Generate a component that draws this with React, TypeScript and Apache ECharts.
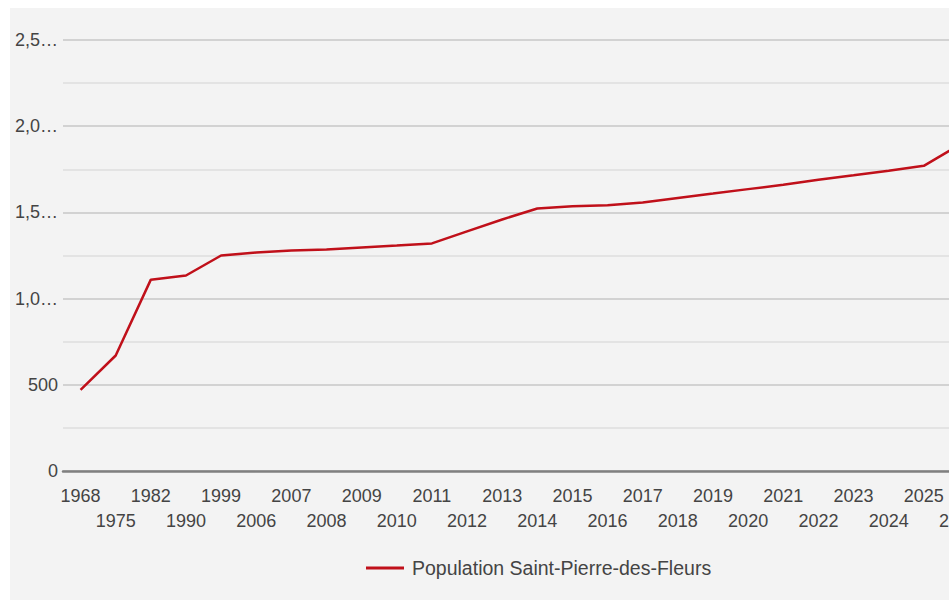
import React, { useEffect, useRef } from "react";
import * as echarts from "echarts";

const years: string[] = [
  "1968", "1975", "1982", "1990", "1999", "2006", "2007", "2008", "2009",
  "2010", "2011", "2012", "2013", "2014", "2015", "2016", "2017", "2018",
  "2019", "2020", "2021", "2022", "2023", "2024", "2025", "2026",
];

const population: number[] = [
  470, 670, 1110, 1134, 1250, 1267, 1279, 1285, 1297, 1308, 1320, 1390, 1459,
  1523, 1535, 1541, 1558, 1584, 1609, 1635, 1660, 1690, 1715, 1742, 1770, 1890,
];

const seriesName = "Population Saint-Pierre-des-Fleurs";
const yTicks: number[] = [0, 500, 1000, 1500, 2000, 2500];

const FONT = "'Liberation Sans', Arial, sans-serif";
const TEXT = "#444";

export default function App() {
  const ref = useRef<HTMLDivElement>(null);
  useEffect(() => {
    if (!ref.current) return;
    const chart = echarts.init(ref.current, undefined, { renderer: "svg" });
    chart.setOption({
      animation: false,
      backgroundColor: "#f3f3f3",
      textStyle: { fontFamily: FONT },
      grid: { left: 53, top: 32, width: 913.5, height: 431, containLabel: false },
      legend: {
        left: 356,
        top: 550,
        padding: 0,
        icon: "rect",
        itemWidth: 38,
        itemHeight: 3,
        itemGap: 10,
        textStyle: { fontFamily: FONT, fontSize: 19.5, color: TEXT, padding: [0, 0, 0, 3] },
        data: [seriesName],
      },
      xAxis: {
        type: "category",
        data: years,
        boundaryGap: true,
        axisLine: { show: true, lineStyle: { color: "#808080", width: 2.5 } },
        axisTick: { show: false },
        axisLabel: {
          interval: 0,
          margin: 12,
          fontFamily: FONT,
          fontSize: 18,
          color: TEXT,
          lineHeight: 25,
          formatter: (v: string, i: number) => (i % 2 === 1 ? "\n" + v : v),
        },
        splitLine: { show: false },
      },
      yAxis: {
        type: "value",
        min: yTicks[0],
        max: yTicks[yTicks.length - 1],
        interval: 500,
        axisLine: { show: false },
        axisTick: { show: false },
        axisLabel: {
          margin: 5,
          fontFamily: FONT,
          fontSize: 18,
          color: TEXT,
          formatter: (v: number) => {
            const s = v.toLocaleString("en-US");
            return s.length > 3 ? s.slice(0, 3) + "\u2026" : s;
          },
        },
        splitLine: { show: true, lineStyle: { color: "#d2d2d2", width: 2 } },
        minorTick: { show: false, splitNumber: 2 },
        minorSplitLine: { show: true, lineStyle: { color: "#e3e3e3", width: 2 } },
      },
      series: [
        {
          name: seriesName,
          type: "line",
          data: population,
          symbol: "none",
          lineStyle: { color: "#c0101a", width: 2.5 },
          itemStyle: { color: "#c0101a" },
        },
      ],
    });
    return () => chart.dispose();
  }, []);
  return (
    <div
      style={{
        position: "absolute",
        left: 10,
        top: 8,
        width: 939,
        height: 592,
        overflow: "hidden",
        background: "#f3f3f3",
      }}
    >
      <div ref={ref} style={{ width: 1060, height: 592 }} />
    </div>
  );
}
